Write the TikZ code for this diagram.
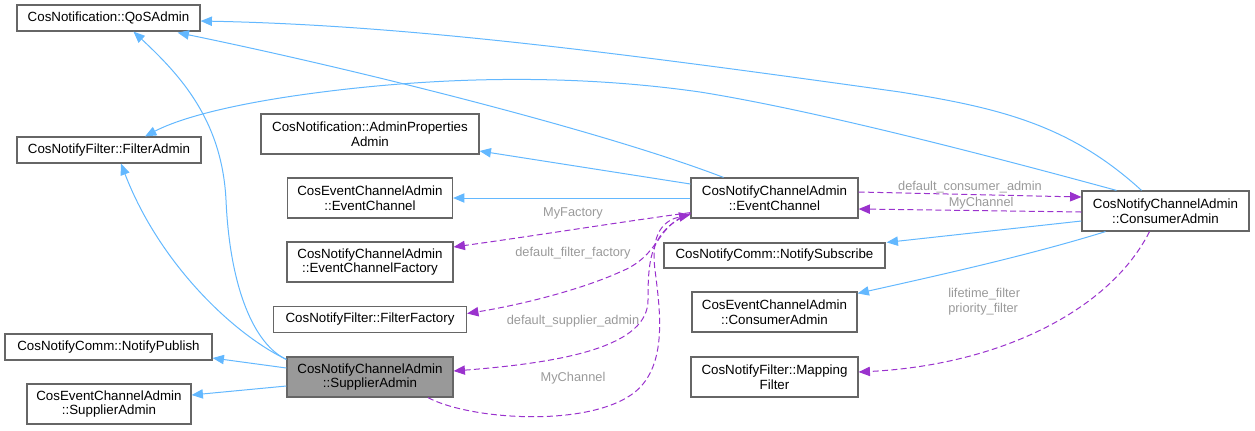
\documentclass[tikz,border=0pt]{standalone}
\usepackage{fontspec}
\setmainfont{Liberation Sans}
\usetikzlibrary{arrows.meta,calc}
\definecolor{inhblue}{HTML}{63B8FF}
\definecolor{colpurple}{HTML}{9A32CD}
\definecolor{lblgrey}{HTML}{9A9A9A}
\definecolor{boxborder}{HTML}{666666}
\definecolor{boxfill}{HTML}{999999}
\begin{document}
\begin{tikzpicture}[x=0.75pt,y=-0.75pt,
  cls/.style={draw=boxborder,line width=0.9pt,fill=white,inner sep=0pt,align=center,
    font=\fontsize{10pt}{11pt}\selectfont},
  cur/.style={cls,fill=boxfill},
  inh/.style={draw=inhblue,line width=0.75pt,-{Triangle[length=8.5pt,width=7pt]}},
  use/.style={draw=colpurple,line width=0.75pt,dash pattern=on 4.5pt off 2.5pt,
    -{Triangle[length=8.5pt,width=7pt,fill=colpurple]}},
  lbl/.style={text=lblgrey,font=\fontsize{9.6pt}{11pt}\selectfont,inner sep=0pt}]
\useasboundingbox (0,0) rectangle (1255,430);

% nodes
\node[cls,minimum width=183*0.75pt,minimum height=26*0.75pt] (qos) at (108.5,18) {CosNotification::QoSAdmin};
\node[cls,minimum width=184*0.75pt,minimum height=26*0.75pt] (filt) at (109,150) {CosNotifyFilter::FilterAdmin};
\node[cls,minimum width=218*0.75pt,minimum height=40*0.75pt] (app) at (370,134) {CosNotification::AdminProperties\\Admin};
\node[cls,minimum width=165*0.75pt,minimum height=40*0.75pt] (ece) at (370,198) {CosEventChannelAdmin\\::EventChannel};
\node[cls,minimum width=166*0.75pt,minimum height=40*0.75pt] (ecf) at (370,262) {CosNotifyChannelAdmin\\::EventChannelFactory};
\node[cls,minimum width=193*0.75pt,minimum height=26*0.75pt] (ff) at (370,319.5) {CosNotifyFilter::FilterFactory};
\node[cls,minimum width=207*0.75pt,minimum height=26*0.75pt] (np) at (108.5,347) {CosNotifyComm::NotifyPublish};
\node[cur,minimum width=166*0.75pt,minimum height=40*0.75pt] (sa) at (370,377) {CosNotifyChannelAdmin\\::SupplierAdmin};
\node[cls,minimum width=164*0.75pt,minimum height=40*0.75pt] (esa) at (109,404) {CosEventChannelAdmin\\::SupplierAdmin};
\node[cls,minimum width=167*0.75pt,minimum height=40*0.75pt] (ec) at (774.5,198) {CosNotifyChannelAdmin\\::EventChannel};
\node[cls,minimum width=221*0.75pt,minimum height=25*0.75pt] (ns) at (774.5,255.5) {CosNotifyComm::NotifySubscribe};
\node[cls,minimum width=165*0.75pt,minimum height=40*0.75pt] (eca) at (774.5,312) {CosEventChannelAdmin\\::ConsumerAdmin};
\node[cls,minimum width=167*0.75pt,minimum height=40*0.75pt] (mf) at (774.5,377) {CosNotifyFilter::Mapping\\Filter};
\node[cls,minimum width=167*0.75pt,minimum height=40*0.75pt] (ca) at (1165.5,211) {CosNotifyChannelAdmin\\::ConsumerAdmin};

% inheritance (solid blue)
\draw[inh] ($(sa.north west)+(0,3)$) .. controls (255,345) and (230,290) .. (226,200)
  .. controls (222,120) and (180,75) .. ($(qos.south)+(25,0)$);
\draw[inh] ($(sa.north west)+(0,3)$) .. controls (235,335) and (160,265) .. ($(filt.south)+(12,0)$);
\draw[inh] ($(sa.west)+(0,-9)$) -- ($(np.east)+(0,11)$);
\draw[inh] ($(sa.west)+(0,9)$) -- ($(esa.east)+(0,-9)$);
\draw[inh] ($(ec.north)+(-51,0)$) .. controls (600,130) and (350,68) .. ($(qos.south east)+(-23,1)$);
\draw[inh] ($(ec.west)+(0,-14)$) -- ($(app.east)+(0,17)$);
\draw[inh] (ec.west) -- (ece.east);
\draw[inh] ($(ca.north)+(-24,0)$) .. controls (1070,125) and (1000,108) .. (900,92)
  .. controls (600,50) and (400,25) .. ($(qos.east)+(0,3)$);
\draw[inh] ($(ca.north)+(-49,0)$) .. controls (950,145) and (800,108) .. (700,92)
  .. controls (560,72) and (420,78) .. (300,95)
  .. controls (230,105) and (180,118) .. ($(filt.north)+(36,0)$);
\draw[inh] ($(ca.west)+(0,10)$) -- ($(ns.north east)+(1,0)$);
\draw[inh] ($(ca.south)+(-60,0)$) .. controls (1030,255) and (940,275) .. ($(eca.north east)+(0,2)$);

% usage (dashed purple)
\draw[use] ($(ec.east)+(0,-6)$) -- node[lbl,above=1pt,pos=0.5] {default\_consumer\_admin} ($(ca.west)+(0,-14)$);
\draw[use] ($(ca.west)+(0,1)$) -- node[lbl,above=1pt,pos=0.45] {MyChannel} ($(ec.east)+(0,11)$);
\draw[use] ($(ca.south)+(-16,0)$) .. controls (1110,310) and (1000,365) .. ($(mf.east)+(0,-5)$);
\node[lbl,align=left,anchor=west] (lfl) at (948,302) {lifetime\_filter\\priority\_filter};

\draw[use] ($(ec.south west)+(0,-6)$) .. controls (620,222) and (540,235) .. ($(ecf.east)+(0,-15)$);
\node[lbl] (lmf) at (573,213) {MyFactory};
\draw[use] ($(ec.south west)+(0,-5)$) .. controls (655,225) and (662,255) .. (620,272)
  .. controls (580,290) and (520,305) .. ($(ff.east)+(0,-6)$);
\node[lbl] (ldff) at (573,253) {default\_filter\_factory};
\draw[use] ($(ec.south west)+(0,-5)$) .. controls (650,230) and (648,260) .. (648,300)
  .. controls (648,345) and (570,362) .. ($(sa.east)+(0,-6)$);
\node[lbl] (ldsa) at (573,321) {default\_supplier\_admin};
\draw[use] ($(sa.south)+(58,0)$) .. controls (470,420) and (590,428) .. (635,392)
  .. controls (668,365) and (660,310) .. (655,270)
  .. controls (650,232) and (665,220) .. ($(ec.south west)+(0,-4)$);
\node[lbl] (lmc) at (573,378) {MyChannel};
\end{tikzpicture}
\end{document}
